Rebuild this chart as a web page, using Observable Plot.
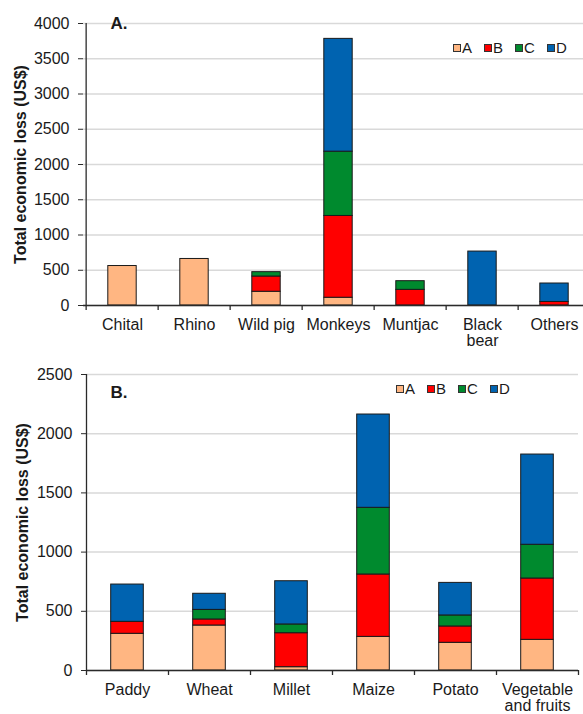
<!DOCTYPE html>
<html><head><meta charset="utf-8">
<script src="https://cdn.jsdelivr.net/npm/d3@7"></script>
<script src="https://cdn.jsdelivr.net/npm/@observablehq/plot@0.6"></script>
<style>
body{margin:0;background:#fff;font-family:"Liberation Sans",Arial,sans-serif;}
#wrap{position:relative;width:583px;height:714px;overflow:hidden;background:#fff;}
.panel{position:relative;width:583px;overflow:hidden;}
.panel svg{display:block;max-width:none !important;}
.legend{position:absolute;display:flex;align-items:center;gap:12px;font-size:15px;color:#1a1a1a;line-height:1;}
.legend .item{display:flex;align-items:center;}
.legend i{display:inline-block;width:6px;height:6px;border:1px solid #333;margin-right:1px;}
</style></head><body>
<div id="wrap"><div class="panel" id="pa"></div><div class="panel" id="pb"></div></div>
<script>
const series = ["A", "B", "C", "D"];
const colors = ["#FFB682", "#FF0000", "#008A2E", "#0063B0"];

// Panel A: by animal
const animals = ["Chital", "Rhino", "Wild pig", "Monkeys", "Muntjac", "Black bear", "Others"];
const animalLabels = ["Chital", "Rhino", "Wild pig", "Monkeys", "Muntjac", "Black\nbear", "Others"];
const animalA = [560, 660, 195, 110, 0, 0, 0];
const animalB = [0, 0, 216, 1160, 222, 0, 50];
const animalC = [0, 0, 62, 912, 123, 0, 0];
const animalD = [0, 0, 0, 1600, 0, 765, 262];
const yTicksA = [0, 500, 1000, 1500, 2000, 2500, 3000, 3500, 4000];

// Panel B: by crop
const crops = ["Paddy", "Wheat", "Millet", "Maize", "Potato", "Vegetable and fruits"];
const cropLabels = ["Paddy", "Wheat", "Millet", "Maize", "Potato", "Vegetable\nand fruits"];
const cropA = [310, 380, 28, 284, 234, 259];
const cropB = [101, 51, 287, 527, 138, 518];
const cropC = [0, 81, 74, 563, 93, 285];
const cropD = [315, 136, 365, 788, 275, 762];
const yTicksB = [0, 500, 1000, 1500, 2000, 2500];

const yTitle = "Total economic loss (US$)";

function toRows(cats, vals) {
  const rows = [];
  cats.forEach((c, i) => {
    series.forEach((s, j) => {
      if (vals[j][i] > 0) rows.push({cat: c, series: s, value: vals[j][i]});
    });
  });
  return rows;
}

function panel(cfg) {
  const {cats, labels, vals, ticks, tag, width, height, mL, mR, mT, mB, inset, titleDx, tagDx, tagDy} = cfg;
  const step = (width - mL - mR) / cats.length;
  const yMax = ticks[ticks.length - 1];
  const axisColor = "#2a2a2a";
  return Plot.plot({
    width, height,
    marginLeft: mL, marginRight: mR, marginTop: mT, marginBottom: mB,
    style: {fontFamily: "'Liberation Sans', Arial, sans-serif", fontSize: "16px", color: "#1a1a1a", background: "transparent", maxWidth: "none"},
    x: {domain: cats, padding: 0},
    y: {domain: [0, yMax]},
    color: {domain: series, range: colors},
    marks: [
      Plot.gridY(ticks, {stroke: "#d9d9d9", strokeOpacity: 1, strokeWidth: 1.5}),
      Plot.barY(toRows(cats, vals), {x: "cat", y: "value", fill: "series", stroke: "#1a1a1a", strokeWidth: 1, insetLeft: inset, insetRight: inset}),
      Plot.ruleY([0], {stroke: axisColor, strokeWidth: 1.3}),
      Plot.ruleX([cats[0]], {x: d => d, dx: -step / 2, y1: yMax, y2: 0, insetBottom: -5, stroke: axisColor, strokeWidth: 1.3}),
      Plot.ruleX(cats.slice(1), {x: d => d, dx: -step / 2, y1: 0, y2: 0, insetBottom: -5, stroke: axisColor, strokeWidth: 1.3}),
      Plot.ruleX([cats[cats.length - 1]], {x: d => d, dx: step / 2, y1: 0, y2: 0, insetBottom: -5, stroke: axisColor, strokeWidth: 1.3}),
      Plot.axisY({ticks, tickSize: 5, tickPadding: 9, stroke: axisColor, label: null, fontSize: 16, tickFormat: d => String(d)}),
      Plot.axisX({tickSize: 0, tickPadding: 13, label: null, fontSize: 16, tickFormat: (d) => labels[cats.indexOf(d)]}),
      Plot.text([yTitle], {frameAnchor: "left", dx: -titleDx, rotate: -90, textAnchor: "middle", lineAnchor: "middle", fontWeight: "bold", fontSize: 16}),
      Plot.text([tag], {frameAnchor: "top-left", dx: tagDx, dy: tagDy, textAnchor: "start", lineAnchor: "middle", fontWeight: "bold", fontSize: 17})
    ]
  });
}

function legend(container, left, top) {
  const div = document.createElement("div");
  div.className = "legend";
  div.style.left = left + "px";
  div.style.top = top + "px";
  series.forEach((s, i) => {
    const item = document.createElement("span");
    item.className = "item";
    const sw = document.createElement("i");
    sw.style.background = colors[i];
    item.appendChild(sw);
    item.appendChild(document.createTextNode(s));
    div.appendChild(item);
  });
  container.appendChild(div);
}

const pa = document.getElementById("pa");
pa.style.height = "350px";
pa.appendChild(panel({
  cats: animals, labels: animalLabels, vals: [animalA, animalB, animalC, animalD], ticks: yTicksA, tag: "A.",
  width: 592, height: 350, mL: 83, mR: 0, mT: 23, mB: 45, inset: 21.8, titleDx: 63, tagDx: 27, tagDy: 0
}));
legend(pa, 453, 40);

const pb = document.getElementById("pb");
pb.style.height = "364px";
pb.appendChild(panel({
  cats: crops, labels: cropLabels, vals: [cropA, cropB, cropC, cropD], ticks: yTicksB, tag: "B.",
  width: 583, height: 364, mL: 86, mR: 5, mT: 24, mB: 44, inset: 24.7, titleDx: 64, tagDx: 24, tagDy: 18
}));
legend(pb, 396, 31);
</script>
</body></html>
